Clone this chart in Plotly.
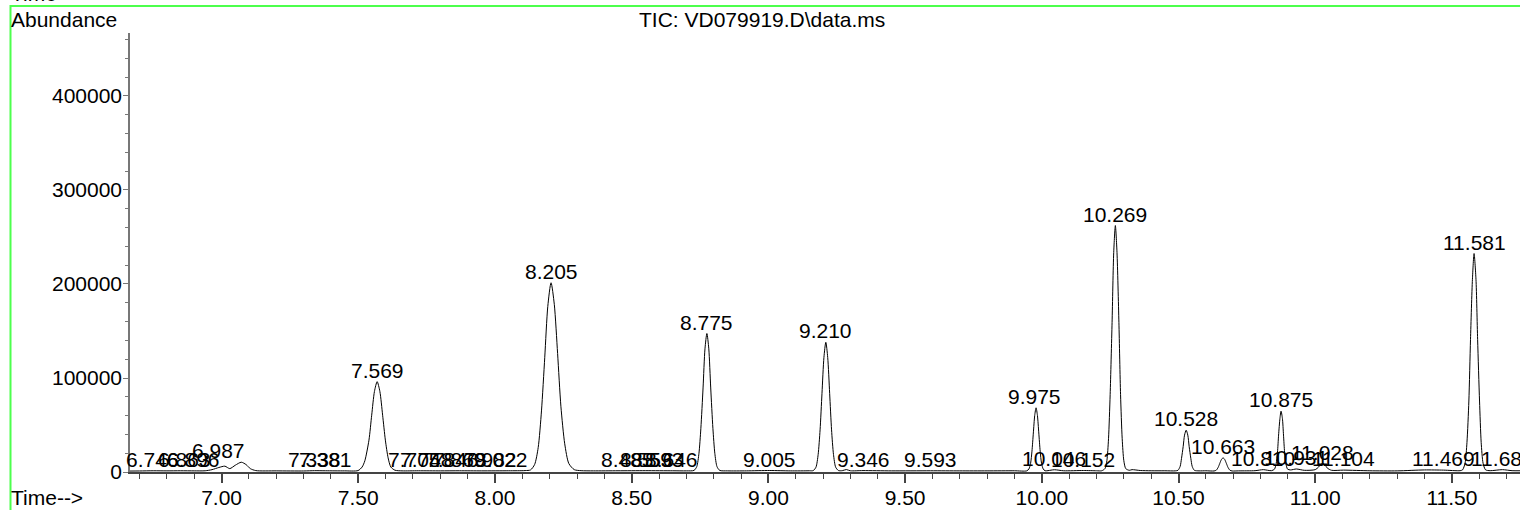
import plotly.graph_objects as go

# ---- chromatogram trace (time in min, abundance) ----
time_min = [
    6.665, 6.70, 6.75, 6.80, 6.85, 6.90, 6.94, 6.965, 6.99, 7.012, 7.030, 7.050, 7.072, 7.090, 7.105, 7.125,
    7.20, 7.30, 7.34, 7.38, 7.45, 7.499,
    7.514, 7.524, 7.539, 7.549, 7.559, 7.569, 7.579, 7.589, 7.599, 7.609, 7.619, 7.634, 7.66,
    7.72, 7.80, 7.87, 7.95, 8.05, 8.11,
    8.130, 8.145, 8.158, 8.170, 8.182, 8.193, 8.205, 8.217, 8.229, 8.241, 8.255, 8.270, 8.290, 8.315, 8.36,
    8.45, 8.55, 8.65, 8.70, 8.728,
    8.738, 8.746, 8.753, 8.761, 8.768, 8.775, 8.782, 8.789, 8.797, 8.804, 8.812, 8.822, 8.85,
    8.92, 9.005, 9.08, 9.15, 9.164,
    9.174, 9.182, 9.189, 9.196, 9.203, 9.210, 9.217, 9.224, 9.231, 9.238, 9.246, 9.256, 9.270, 9.285, 9.30,
    9.346, 9.45, 9.593, 9.70, 9.80, 9.90, 9.945,
    9.953, 9.959, 9.964, 9.969, 9.974, 9.979, 9.984, 9.989, 9.994, 9.999, 10.005, 10.012,
    10.046, 10.08, 10.152, 10.20, 10.219,
    10.231, 10.238, 10.244, 10.250, 10.257, 10.263, 10.269, 10.275, 10.282, 10.288, 10.294, 10.300, 10.307,
    10.320, 10.33, 10.36, 10.40, 10.45, 10.488,
    10.498, 10.506, 10.511, 10.517, 10.522, 10.528, 10.534, 10.539, 10.545, 10.550, 10.558, 10.575,
    10.60, 10.630, 10.638, 10.645, 10.651, 10.657, 10.663, 10.669, 10.675, 10.681, 10.688, 10.696, 10.72,
    10.78, 10.810, 10.84, 10.851,
    10.857, 10.862, 10.866, 10.871, 10.875, 10.880, 10.884, 10.888, 10.893, 10.899, 10.910, 10.931, 10.96,
    11.000, 11.012, 11.020, 11.028, 11.036, 11.044, 11.060, 11.104, 11.20, 11.30, 11.40, 11.469, 11.53,
    11.539, 11.548, 11.555, 11.562, 11.568, 11.575, 11.581, 11.588, 11.594, 11.601, 11.607, 11.614, 11.623,
    11.64, 11.685, 11.72, 11.749,
]
abundance = [
    1000, 1100, 1300, 1200, 1300, 1200, 1300, 2500, 4800, 6200, 3600, 7200, 10400, 7800, 3600, 1500,
    1200, 1100, 1400, 1300, 1200, 1500,
    5300, 12000, 33900, 60400, 85600, 96100, 85600, 60400, 33900, 15100, 5300, 1900, 1200,
    1300, 1200, 1300, 1200, 1300, 1500,
    2200, 8000, 26000, 65000, 122000, 176000, 201300, 178000, 126000, 70000, 30000, 9000, 2500, 1400, 1200,
    1300, 1400, 1300, 1200, 1700,
    5700, 19900, 46500, 89400, 131000, 147300, 131000, 89400, 46500, 19900, 5700, 1700, 1200,
    1200, 1600, 1200, 1300, 1500,
    5100, 18700, 44800, 83700, 121700, 138000, 121700, 83700, 44800, 18700, 5100, 1600, 1400, 2600, 1300,
    1500, 1200, 1300, 1200, 1200, 1300, 1200,
    3300, 9200, 22200, 41500, 60100, 68300, 60100, 41500, 22200, 9200, 3300, 1300,
    2400, 1300, 1600, 1300, 1300,
    3600, 12000, 35400, 82600, 159100, 233600, 262200, 233600, 159100, 82600, 35400, 12000, 3600,
    1800, 2500, 1600, 1300, 1300, 1200,
    1800, 6000, 14500, 27000, 39200, 44500, 39200, 27000, 14500, 6000, 1800, 1200,
    1300, 1100, 1900, 4900, 9200, 13300, 15100, 13300, 9200, 4900, 1900, 1100, 1200,
    1400, 2500, 1400, 3000,
    8700, 21000, 39300, 57000, 64700, 57000, 39300, 21000, 8700, 3000, 2200, 3200, 1800,
    2500, 5200, 8000, 9000, 7600, 4200, 1800, 2000, 1300, 1200, 2200, 2000, 1400,
    2300, 9300, 31400, 75500, 141000, 205000, 232400, 205000, 141000, 75500, 31400, 9300, 2300,
    1400, 2500, 1400, 1300,
]

# ---- peak labels ----
label_times = [6.746, 6.863, 6.896, 6.987, 7.338, 7.381, 7.569,
               7.705, 7.748, 7.846, 7.869, 7.982, 8.022, 8.205,
               8.485, 8.553, 8.593, 8.646, 8.775, 9.005, 9.210, 9.346, 9.593,
               9.975, 10.046, 10.152, 10.269, 10.528, 10.663, 10.810, 10.875,
               10.931, 11.028, 11.104, 11.469, 11.581, 11.685]
label_texts = ["6.746", "6.863", "6.896", "6.987", "7.338", "7.381", "7.569",
               "7.705", "7.748", "7.846", "7.869", "7.982", "8.022", "8.205",
               "8.485", "8.553", "8.593", "8.646", "8.775", "9.005", "9.210", "9.346", "9.593",
               "9.975", "10.046", "10.152", "10.269", "10.528", "10.663", "10.810", "10.875",
               "10.931", "11.028", "11.104", "11.469", "11.581", "11.685"]
label_heights = [1300, 1300, 1300, 10400, 1400, 1300, 96100,
                 1300, 1300, 1300, 1300, 1300, 1300, 201300,
                 1300, 1300, 1300, 1300, 147300, 1600, 138000, 1500, 1300,
                 68300, 2400, 1600, 262200, 44500, 15100, 2500, 64700,
                 3200, 9000, 2000, 2000, 232400, 2500]

title_text = "TIC: VD079919.D\\data.ms"
x_range = [6.665, 11.749]
y_range = [0, 467000]

FONT = "Liberation Sans, Arial, sans-serif"
GREEN = "#4cff4c"
FS = 21

fig = go.Figure()
fig.add_trace(go.Scatter(
    x=time_min, y=abundance, mode="lines",
    line=dict(color="#000000", width=1, shape="spline", smoothing=0.7),
    hoverinfo="skip", showlegend=False,
))

for t, txt, h in zip(label_times, label_texts, label_heights):
    fig.add_annotation(x=t, y=h, xref="x", yref="y", text=txt, showarrow=False,
                       xanchor="center", yanchor="bottom", yshift=-2,
                       font=dict(family=FONT, size=FS, color="#000000"))

W, H = 1520, 510
ML, MR, MT, MB = 130, 0, 33, 38
pw, ph = W - ML - MR, H - MT - MB


def px(xp):
    return (xp - ML) / pw


def py(yp):
    return (H - MB - yp) / ph


# header / footer texts
fig.add_annotation(x=px(762), y=py(20), xref="paper", yref="paper", text=title_text,
                   showarrow=False, xanchor="center", yanchor="middle",
                   font=dict(family=FONT, size=FS, color="#000000"))
fig.add_annotation(x=px(9), y=py(19), xref="paper", yref="paper", text="Abundance",
                   showarrow=False, xanchor="left", yanchor="middle",
                   font=dict(family=FONT, size=FS, color="#000000"))
fig.add_annotation(x=px(9), y=py(497), xref="paper", yref="paper", text="Time-->",
                   showarrow=False, xanchor="left", yanchor="middle",
                   font=dict(family=FONT, size=FS, color="#000000"))
fig.add_annotation(x=px(9), y=py(-7), xref="paper", yref="paper", text="Time-->",
                   showarrow=False, xanchor="left", yanchor="middle",
                   font=dict(family=FONT, size=FS, color="#000000"))

# green frame lines
fig.add_shape(type="line", xref="paper", yref="paper", x0=px(10), x1=px(1525), y0=py(6), y1=py(6),
              line=dict(color=GREEN, width=2))
fig.add_shape(type="line", xref="paper", yref="paper", x0=px(10.5), x1=px(10.5), y0=py(5), y1=py(515),
              line=dict(color=GREEN, width=2))

fig.update_layout(
    width=W, height=H,
    margin=dict(l=ML, r=MR, t=MT, b=MB, pad=0, autoexpand=False),
    paper_bgcolor="#ffffff", plot_bgcolor="#ffffff",
    showlegend=False,
    font=dict(family=FONT, size=FS, color="#000000"),
    xaxis=dict(range=x_range, showgrid=False, zeroline=False, automargin=False,
               showline=True, linecolor="#444444", linewidth=1.5,
               ticks="outside", ticklen=9, tickcolor="#444444", tickwidth=1.5,
               tick0=7.0, dtick=0.5, tickformat=".2f", ticklabelstandoff=-3,
               minor=dict(ticks="outside", ticklen=5, tickcolor="#444444", tickwidth=1, dtick=0.1, tick0=7.0),
               tickfont=dict(family=FONT, size=FS, color="#000000")),
    yaxis=dict(range=y_range, showgrid=False, zeroline=False, automargin=False,
               showline=True, linecolor="#777777", linewidth=1.5,
               ticks="outside", ticklen=5, tickcolor="#777777", tickwidth=1,
               tick0=0, dtick=100000, tickformat="d", ticklabelstandoff=-3,
               minor=dict(ticks="outside", ticklen=3, tickcolor="#777777", tickwidth=1, dtick=20000, tick0=0),
               tickfont=dict(family=FONT, size=FS, color="#000000")),
)

fig.write_html("out.html", config={"displayModeBar": False},
               post_script="document.body.style.margin='0px';document.body.style.overflow='hidden';")
